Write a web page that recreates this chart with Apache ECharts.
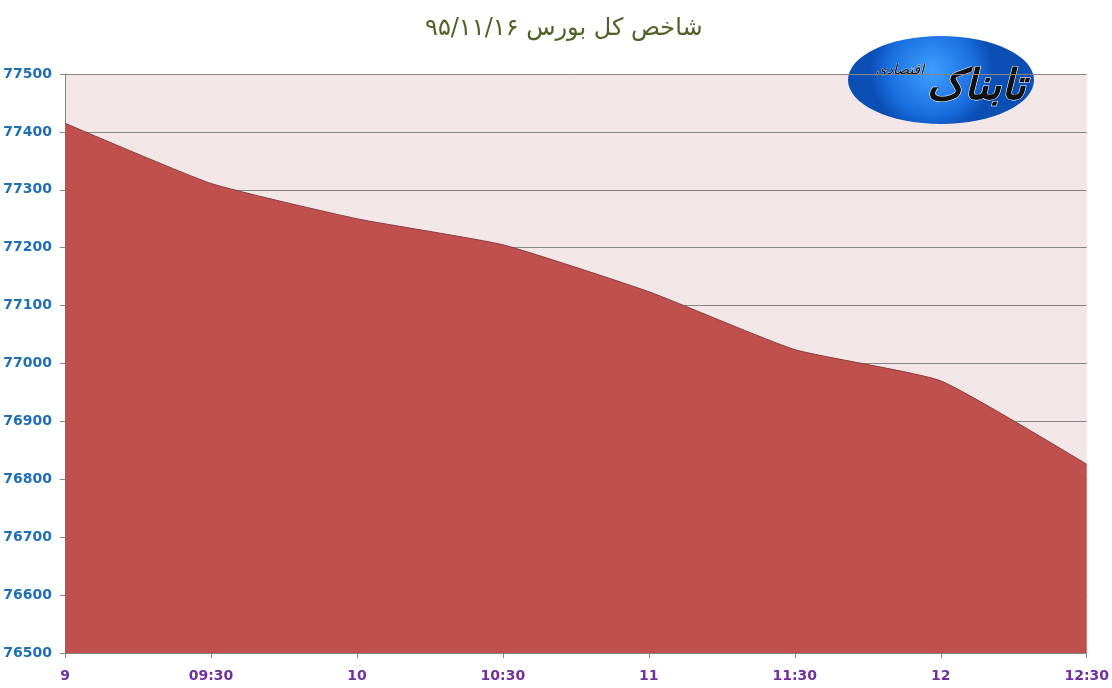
<!DOCTYPE html>
<html>
<head>
<meta charset="utf-8">
<script src="https://cdn.jsdelivr.net/npm/echarts@6/dist/echarts.min.js"></script>
<style>
html, body { margin: 0; padding: 0; background: #fff; }
#container { width: 1112px; height: 688px; }
</style>
</head>
<body>
<div id="container"></div>
<script>
var times = ['9', '09:30', '10', '10:30', '11', '11:30', '12', '12:30'];
var indexValues = [77415, 77311, 77250, 77205, 77124, 77024, 76970, 76826];
var yMin = 76500;
var yMax = 77500;
var yStep = 100;

var myChart = echarts.init(document.getElementById('container'));

var option = {
    backgroundColor: '#ffffff',
    title: {
        text: 'شاخص کل بورس ۹۵/۱۱/۱۶',
        left: 420,
        top: 12,
        textStyle: {
            color: '#4F6228',
            fontFamily: 'DejaVu Sans',
            fontWeight: 'normal',
            fontSize: 24
        }
    },
    grid: {
        left: 65,
        right: 22,
        top: 74,
        bottom: 35,
        show: true,
        backgroundColor: '#F2E6E7',
        borderWidth: 0
    },
    xAxis: {
        type: 'category',
        boundaryGap: false,
        data: times,
        axisLine: { lineStyle: { color: '#868686' } },
        axisTick: { show: true, alignWithLabel: true, length: 5, lineStyle: { color: '#868686' } },
        axisLabel: {
            color: '#7030A0',
            fontWeight: 'bold',
            fontFamily: 'DejaVu Sans',
            fontSize: 14,
            margin: 16,
            interval: 0
        },
        splitLine: { show: false }
    },
    yAxis: {
        type: 'value',
        min: yMin,
        max: yMax,
        interval: yStep,
        axisLine: { show: true, lineStyle: { color: '#868686' } },
        axisTick: { show: true, length: 5, lineStyle: { color: '#868686' } },
        axisLabel: {
            color: '#1F6FB5',
            fontWeight: 'bold',
            fontFamily: 'DejaVu Sans',
            fontSize: 14,
            margin: 13,
            formatter: function (v) { return String(v); }
        },
        splitLine: { show: true, lineStyle: { color: '#868686', width: 1 } }
    },
    series: [{
        type: 'line',
        data: indexValues,
        smooth: 0.15,
        symbol: 'none',
        lineStyle: { color: '#8C3B3A', width: 1 },
        areaStyle: { color: '#C0504D', opacity: 1 },
        z: 3
    }],
    graphic: [
        {
            type: 'group',
            left: 848,
            top: 36,
            z: 100,
            children: [
                {
                    type: 'ellipse',
                    shape: { cx: 93, cy: 46, rx: 93, ry: 44 },
                    style: {
                        fill: new echarts.graphic.RadialGradient(0.45, 0.4, 0.7, [
                            { offset: 0, color: '#3FA0FF' },
                            { offset: 0.7, color: '#1A6FE0' },
                            { offset: 1, color: '#0B4FB5' }
                        ])
                    }
                },
                {
                    type: 'text',
                    x: 128,
                    y: 54,
                    style: {
                        text: 'تابناک',
                        fill: '#111',
                        font: 'bold italic 42px "DejaVu Sans"',
                        align: 'center',
                        verticalAlign: 'middle',
                        stroke: '#ffffff',
                        lineWidth: 1
                    }
                },
                {
                    type: 'text',
                    x: 52,
                    y: 36,
                    style: {
                        text: 'اقتصادی',
                        fill: '#111',
                        font: 'italic 14px "DejaVu Sans"',
                        align: 'center',
                        verticalAlign: 'middle',
                        stroke: '#ffffff',
                        lineWidth: 0.5
                    }
                }
            ]
        }
    ]
};

myChart.setOption(option);
</script>
</body>
</html>
